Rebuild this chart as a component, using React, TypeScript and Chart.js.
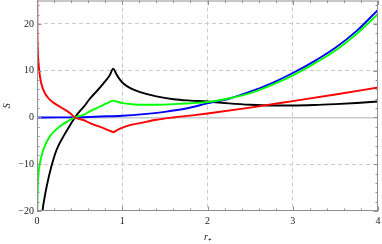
import React, { useEffect, useRef } from "react";
import { Chart, registerables } from "chart.js";
Chart.register(...registerables);

const xTicks = [0, 1, 2, 3, 4];
const yTicks = [-20, -10, 0, 10, 20];

const redX = [0.001, 0.002, 0.004, 0.008, 0.015, 0.035, 0.074, 0.15, 0.27, 0.39, 0.445, 0.55, 0.62, 0.7, 0.78, 0.85, 0.895, 0.95, 1.01, 1.1, 1.21, 1.4, 1.6, 1.8, 2.0, 2.5, 3.0, 3.5, 4.0];
const redY = [40, 30, 20, 15, 12.3, 8.7, 5.9, 3.8, 2.3, 0.9, 0, -0.6, -1.2, -1.75, -2.3, -2.8, -3.1, -2.6, -2.1, -1.6, -1.2, -0.5, 0.0, 0.4, 0.85, 2.1, 3.5, 4.9, 6.4];

const greenX = [0.002, 0.004, 0.008, 0.015, 0.035, 0.074, 0.15, 0.27, 0.39, 0.445, 0.55, 0.62, 0.7, 0.78, 0.85, 0.895, 0.95, 1.01, 1.1, 1.21, 1.4, 1.6, 1.8, 2.0, 2.2, 2.5, 2.75, 3.0, 3.25, 3.5, 3.75, 4.0];
const greenY = [-25, -20, -15.5, -12.6, -9.7, -6.9, -4.05, -1.9, -0.5, 0, 0.6, 1.3, 2.0, 2.7, 3.3, 3.6, 3.3, 3.05, 2.85, 2.7, 2.7, 2.85, 3.05, 3.3, 3.9, 5.2, 6.9, 9.0, 11.5, 14.3, 17.9, 22.1];

const blueX = [0, 0.25, 0.5, 0.75, 1.0, 1.25, 1.5, 1.75, 2.0, 2.25, 2.5, 2.75, 3.0, 3.25, 3.5, 3.75, 4.0];
const blueY = [0, 0.01, 0.05, 0.2, 0.36, 0.7, 1.2, 1.9, 3.0, 4.0, 5.5, 7.3, 9.5, 12.0, 14.9, 18.5, 23.0];

const blackX = [0.06, 0.067, 0.09, 0.114, 0.17, 0.23, 0.31, 0.39, 0.445, 0.5, 0.55, 0.62, 0.7, 0.78, 0.85, 0.895, 0.93, 0.96, 1.01, 1.1, 1.21, 1.4, 1.6, 1.8, 2.0, 2.25, 2.5, 2.75, 3.0, 3.25, 3.5, 3.75, 4.0];
const blackY = [-21.5, -19.7, -17, -14.7, -10.4, -6.9, -4.05, -1.6, 0, 1.3, 2.3, 4.0, 5.6, 7.3, 8.9, 10.4, 9.3, 8.4, 7.3, 6.2, 5.4, 4.5, 3.9, 3.6, 3.4, 3.0, 2.7, 2.55, 2.55, 2.65, 2.85, 3.1, 3.4];

const SERIF = "'Liberation Serif', 'Times New Roman', serif";

const pts = (xs: number[], ys: number[]) => xs.map((x, i) => ({ x, y: ys[i] }));

const framePlugin = {
  id: "frame",
  afterDatasetsDraw(chart: any) {
    const { ctx, chartArea: a, scales } = chart;
    const xs = scales.x;
    const ys = scales.y;
    ctx.save();
    ctx.strokeStyle = "#909090";
    ctx.lineWidth = 1;
    ctx.strokeRect(a.left + 0.5, a.top + 0.5, a.right - a.left - 1, a.bottom - a.top - 1);
    const line = (x1: number, y1: number, x2: number, y2: number) => {
      ctx.beginPath();
      ctx.moveTo(x1, y1);
      ctx.lineTo(x2, y2);
      ctx.stroke();
    };
    for (let i = 0; i <= 20; i++) {
      const v = i * 0.2;
      const px = Math.round(xs.getPixelForValue(v)) + 0.5;
      const L = i % 5 === 0 ? 4.5 : 2.5;
      line(px, a.bottom, px, a.bottom - L);
      line(px, a.top, px, a.top + L);
    }
    for (let i = 0; i <= 22; i++) {
      const v = -20 + i * 2;
      const py = Math.round(ys.getPixelForValue(v)) + 0.5;
      const L = i % 5 === 0 ? 4.5 : 2.5;
      line(a.left, py, a.left + L, py);
      line(a.right, py, a.right - L, py);
    }
    ctx.restore();
  },
};

export default function App() {
  const ref = useRef<HTMLCanvasElement>(null);
  useEffect(() => {
    document.body.style.margin = "0";
    const ds = (label: string, xs: number[], ys: number[], color: string) => ({
      label,
      data: pts(xs, ys),
      borderColor: color,
      backgroundColor: color,
      borderWidth: 1.9,
      pointRadius: 0,
      cubicInterpolationMode: "monotone" as const,
      fill: false,
    });
    const chart = new Chart(ref.current!, {
      type: "line",
      data: {
        datasets: [
          ds("red", redX, redY, "#ff0000"),
          ds("green", greenX, greenY, "#00ff00"),
          ds("blue", blueX, blueY, "#0000ff"),
          ds("black", blackX, blackY, "#000000"),
        ],
      },
      options: {
        animation: false,
        responsive: false,
        maintainAspectRatio: false,
        layout: { padding: { top: 0.5, right: 4, left: 0, bottom: 0 } },
        plugins: { legend: { display: false }, tooltip: { enabled: false } },
        scales: {
          x: {
            type: "linear",
            min: 0,
            max: 4,
            afterBuildTicks: (s: any) => {
              s.ticks = xTicks.map((v) => ({ value: v }));
            },
            afterFit: (s: any) => {
              s.height = 33;
              s.paddingLeft = 0;
              s.paddingRight = 0;
            },
            grid: {
              drawTicks: false,
              color: (c: any) => (c.tick && (c.tick.value === 0 || c.tick.value === 4) ? "rgba(0,0,0,0)" : "#cacaca"),
              lineWidth: 1,
            },
            border: { display: false, dash: [4, 3] },
            ticks: {
              padding: 4,
              color: "#222",
              font: { family: SERIF, size: 10 },
              callback: (v: any) => String(v),
            },
            title: {
              display: true,
              text: "r₊",
              color: "#222",
              font: { family: SERIF, size: 10, style: "italic" },
              padding: { top: 0, bottom: 1 },
            },
          },
          y: {
            type: "linear",
            min: -20,
            max: 25,
            afterBuildTicks: (s: any) => {
              s.ticks = yTicks.map((v) => ({ value: v }));
            },
            afterFit: (s: any) => {
              s.width = 37;
              s.paddingTop = 0;
              s.paddingBottom = 0;
            },
            grid: {
              drawTicks: false,
              color: (c: any) => (c.tick && c.tick.value === -20 ? "rgba(0,0,0,0)" : "#cacaca"),
              lineWidth: (c: any) => (c.tick && c.tick.value === 0 ? 1.5 : 1),
            },
            border: {
              display: false,
              dash: (c: any) => (c.tick && c.tick.value === 0 ? [] : [4, 3]),
            },
            ticks: {
              padding: 3,
              color: "#222",
              font: { family: SERIF, size: 10 },
              callback: (v: any) => (Number(v) < 0 ? "\u2212" + Math.abs(Number(v)) : String(v)),
            },
            title: {
              display: true,
              text: "S",
              color: "#222",
              font: { family: SERIF, size: 10, style: "italic" },
              padding: { top: 1, bottom: 0 },
            },
          },
        },
      },
      plugins: [framePlugin],
    });
    return () => chart.destroy();
  }, []);
  return <canvas ref={ref} width={382} height={244} style={{ display: "block" }} />;
}
